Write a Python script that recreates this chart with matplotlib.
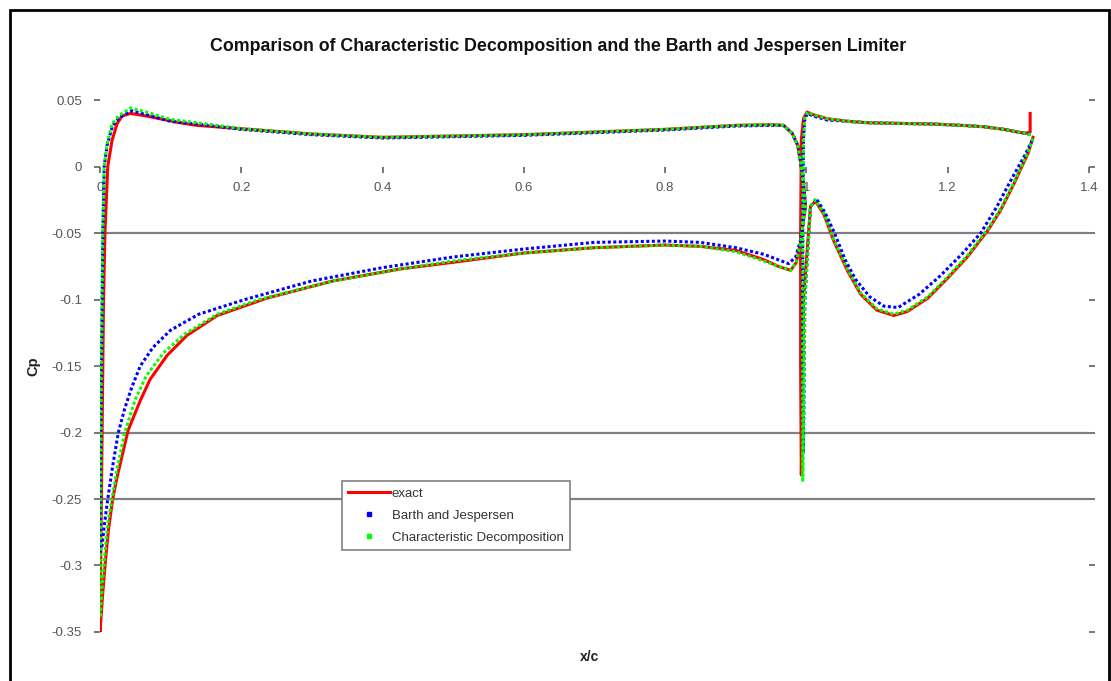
import numpy as np
import matplotlib
matplotlib.use('Agg')
import matplotlib.pyplot as plt
from matplotlib.lines import Line2D
from matplotlib.patches import Rectangle

plt.rcParams['font.family'] = ['Liberation Sans', 'DejaVu Sans']

# ---- data ----
# main element: lower surface LE->TE, then upper surface TE->LE
exact_main_x = [0.0, 0.004, 0.008, 0.012, 0.018, 0.024, 0.04, 0.057, 0.071, 0.095, 0.123, 0.166,
                0.236, 0.33, 0.425, 0.5, 0.6, 0.7, 0.8, 0.85, 0.9, 0.94, 0.96, 0.978, 0.986, 0.992,
                0.996, 0.999,
                0.996, 0.992, 0.988, 0.98, 0.968, 0.95, 0.9, 0.8, 0.7, 0.6, 0.5, 0.4, 0.3, 0.2,
                0.137, 0.113, 0.066, 0.043, 0.031, 0.024, 0.017, 0.011, 0.007, 0.005, 0.004, 0.003,
                0.002, 0.001, 0.0]
exact_main_y = [-0.35, -0.32, -0.295, -0.273, -0.25, -0.234, -0.198, -0.176, -0.16, -0.142, -0.127,
                -0.112, -0.099, -0.086, -0.077, -0.072, -0.065, -0.061, -0.059, -0.060, -0.063,
                -0.07, -0.075, -0.078, -0.072, -0.057, -0.04, -0.03,
                -0.012, 0.003, 0.016, 0.025, 0.031, 0.0315, 0.031, 0.028, 0.026, 0.024, 0.023,
                0.022, 0.0245, 0.0285, 0.031, 0.033, 0.038, 0.040, 0.038, 0.032, 0.0195, 0.0,
                -0.05, -0.1, -0.15, -0.2, -0.25, -0.3, -0.35]

bj_main_x = [0.0, 0.003, 0.006, 0.011, 0.018, 0.026, 0.035, 0.045, 0.057, 0.075, 0.1, 0.14, 0.205,
             0.3, 0.4, 0.5, 0.6, 0.7, 0.8, 0.85, 0.9, 0.94, 0.96, 0.975, 0.985, 0.992, 0.996, 0.999,
             0.996, 0.992, 0.988, 0.98, 0.968, 0.95, 0.9, 0.8, 0.7, 0.6, 0.5, 0.4, 0.3, 0.2,
             0.137, 0.1, 0.066, 0.045, 0.028, 0.018, 0.01, 0.006, 0.004, 0.003, 0.002, 0.001,
             0.0]
bj_main_y = [-0.29, -0.285, -0.27, -0.25, -0.225, -0.2, -0.182, -0.166, -0.15, -0.136, -0.123,
             -0.111, -0.1, -0.086, -0.076, -0.068, -0.062, -0.057, -0.056, -0.057, -0.061,
             -0.066, -0.07, -0.073, -0.068, -0.055, -0.04, -0.03,
             -0.012, 0.003, 0.016, 0.025, 0.031, 0.031, 0.0305, 0.0275, 0.0255, 0.0235, 0.0225,
             0.0215, 0.024, 0.028, 0.032, 0.034, 0.039, 0.042, 0.037, 0.031, 0.016, 0.0, -0.05,
             -0.1, -0.15, -0.2, -0.29]

cd_main_x = [0.0, 0.004, 0.008, 0.012, 0.017, 0.024, 0.035, 0.05, 0.066, 0.09, 0.12, 0.166, 0.225,
             0.33, 0.425, 0.5, 0.6, 0.7, 0.8, 0.85, 0.9, 0.94, 0.96, 0.978, 0.986, 0.992, 0.996,
             0.999,
             0.996, 0.992, 0.988, 0.98, 0.968, 0.95, 0.9, 0.8, 0.7, 0.6, 0.5, 0.4, 0.3, 0.2,
             0.137, 0.1, 0.066, 0.043, 0.026, 0.017, 0.01, 0.006, 0.004, 0.003, 0.002, 0.0015,
             0.001, 0.0005, 0.0]
cd_main_y = [-0.34, -0.31, -0.285, -0.265, -0.25, -0.228, -0.2, -0.175, -0.157, -0.14, -0.126,
             -0.111, -0.1, -0.086, -0.077, -0.071, -0.065, -0.061, -0.059, -0.060, -0.064,
             -0.071, -0.075, -0.078, -0.072, -0.057, -0.04, -0.03,
             -0.012, 0.003, 0.016, 0.025, 0.031, 0.0315, 0.031, 0.028, 0.026, 0.024, 0.023,
             0.022, 0.0245, 0.0285, 0.033, 0.0355, 0.041, 0.044, 0.038, 0.032, 0.017, 0.0,
             -0.05, -0.1, -0.15, -0.2, -0.25, -0.3, -0.34]

# flap element: lower surface TE->LE, then upper surface LE->TE
exact_flap_x = [1.321, 1.314, 1.294, 1.275, 1.257, 1.228, 1.2, 1.172, 1.143, 1.124, 1.1, 1.077,
                1.058, 1.039, 1.025, 1.013, 1.006, 0.996, 0.994, 0.993,
                0.992, 0.992, 0.993, 0.996, 1.001, 1.01, 1.03, 1.06, 1.087, 1.13, 1.18, 1.22,
                1.251, 1.28, 1.299, 1.31, 1.317, 1.317]
exact_flap_y = [0.022, 0.010, -0.013, -0.033, -0.048, -0.068, -0.084, -0.099, -0.109, -0.112,
                -0.108, -0.096, -0.078, -0.056, -0.036, -0.026, -0.03, -0.1, -0.2, -0.232,
                -0.15, -0.05, 0.02, 0.036, 0.041, 0.039, 0.036, 0.034, 0.033, 0.0325, 0.032,
                0.031, 0.030, 0.028, 0.026, 0.025, 0.026, 0.040]

bj_flap_x = [1.32, 1.31, 1.29, 1.27, 1.247, 1.22, 1.19, 1.16, 1.13, 1.11, 1.09, 1.07, 1.055, 1.04,
             1.027, 1.014, 1.006, 0.998, 0.996,
             0.995, 0.995, 0.996, 0.998, 1.002, 1.01, 1.03, 1.06, 1.087, 1.13, 1.18, 1.22,
             1.251, 1.28, 1.299, 1.31, 1.318]
bj_flap_y = [0.020, 0.009, -0.010, -0.030, -0.050, -0.066, -0.082, -0.096, -0.106, -0.105,
             -0.098, -0.085, -0.07, -0.05, -0.035, -0.024, -0.03, -0.1, -0.216,
             -0.15, -0.05, 0.02, 0.036, 0.040, 0.038, 0.035, 0.034, 0.033, 0.0325, 0.032,
             0.031, 0.030, 0.028, 0.026, 0.025, 0.024]

cd_flap_x = [1.322, 1.314, 1.294, 1.275, 1.257, 1.228, 1.2, 1.172, 1.143, 1.124, 1.1, 1.077,
             1.058, 1.039, 1.025, 1.013, 1.006, 0.998, 0.996, 0.995,
             0.995, 0.995, 0.996, 0.998, 1.002, 1.01, 1.03, 1.06, 1.087, 1.13, 1.18, 1.22,
             1.251, 1.28, 1.299, 1.31, 1.318]
cd_flap_y = [0.023, 0.011, -0.012, -0.032, -0.047, -0.067, -0.083, -0.098, -0.108, -0.111,
             -0.107, -0.095, -0.077, -0.055, -0.035, -0.025, -0.03, -0.1, -0.2, -0.236,
             -0.15, -0.05, 0.02, 0.037, 0.041, 0.039, 0.036, 0.034, 0.033, 0.0325, 0.032,
             0.031, 0.030, 0.028, 0.026, 0.025, 0.024]

x_ticks = [0, 0.2, 0.4, 0.6, 0.8, 1.0, 1.2, 1.4]
x_tick_labels = ['0', '0.2', '0.4', '0.6', '0.8', '1', '1.2', '1.4']
y_ticks = [0.05, 0, -0.05, -0.1, -0.15, -0.2, -0.25, -0.3, -0.35]
y_tick_labels = ['0.05', '0', '-0.05', '-0.1', '-0.15', '-0.2', '-0.25', '-0.3', '-0.35']
grid_levels = [-0.05, -0.2, -0.25]

title = 'Comparison of Characteristic Decomposition and the Barth and Jespersen Limiter'


def join(xa, ya, xb, yb):
    # NaN break between the two airfoil elements
    return (np.r_[xa, np.nan, xb], np.r_[ya, np.nan, yb])


fig = plt.figure(figsize=(11.11, 6.81), dpi=100)
ax = fig.add_axes([0.090, 0.072, 0.890, 0.781])

for g in grid_levels:
    ax.axhline(g, color='#808080', lw=1.6, zorder=1)

ex, ey = join(exact_main_x, exact_main_y, exact_flap_x, exact_flap_y)
bx, by = join(bj_main_x, bj_main_y, bj_flap_x, bj_flap_y)
cx, cy = join(cd_main_x, cd_main_y, cd_flap_x, cd_flap_y)

ax.plot(ex, ey, color='#ff0000', lw=2.2, zorder=3, solid_joinstyle='round')
ax.plot(bx, by, color='#0000ff', lw=2.2, ls=(0, (1.0, 0.8)), dash_capstyle='butt', zorder=4)
ax.plot(cx, cy, color='#00ff00', lw=2.2, ls=(0.9, (1.0, 0.8)), dash_capstyle='butt', zorder=5)

ax.set_xlim(0, 1.4)
ax.set_ylim(-0.35, 0.05)
ax.set_xticks(x_ticks)
ax.set_xticklabels(x_tick_labels)
ax.set_yticks(y_ticks)
ax.set_yticklabels(y_tick_labels)

for s in ['top', 'right', 'left', 'bottom']:
    ax.spines[s].set_color('none')
ax.spines['bottom'].set_position(('data', 0))

ax.tick_params(axis='x', direction='out', length=4, width=1.2, color='#606060',
               labelcolor='#555555', labelsize=9.5, pad=7)
ax.tick_params(axis='y', direction='out', length=4, width=1.2, color='#606060',
               labelcolor='#555555', labelsize=9.5, pad=9, right=True)

handles = [Line2D([], [], color='#ff0000', lw=2.2),
           Line2D([], [], color='#0000ff', ls='none', marker='s', ms=3),
           Line2D([], [], color='#00ff00', ls='none', marker='s', ms=3)]
leg = ax.legend(handles, ['exact', 'Barth and Jespersen', 'Characteristic Decomposition'],
                loc='upper left', bbox_to_anchor=(0.245, 0.283), borderaxespad=0,
                fontsize=9.5, handlelength=3.2, handletextpad=0.1, labelspacing=0.75,
                borderpad=0.45, fancybox=False, framealpha=1, edgecolor='#808080')
leg.get_frame().set_linewidth(1.2)
for t in leg.get_texts():
    t.set_color('#333333')
leg.set_zorder(10)

fig.text(0.502, 0.931, title, ha='center', va='center', fontsize=12.8, fontweight='bold',
         color='#111111')
fig.text(0.030, 0.463, 'Cp', rotation=90, ha='center', va='center', fontsize=10.5,
         fontweight='bold', color='#222222')
fig.text(0.531, 0.035, 'x/c', ha='center', va='center', fontsize=10, fontweight='bold',
         color='#222222')

fig.patches.append(Rectangle((0.009, -0.05), 0.989, 1.035, transform=fig.transFigure,
                             fill=False, edgecolor='black', lw=2))

fig.savefig('out.png', dpi=100)
